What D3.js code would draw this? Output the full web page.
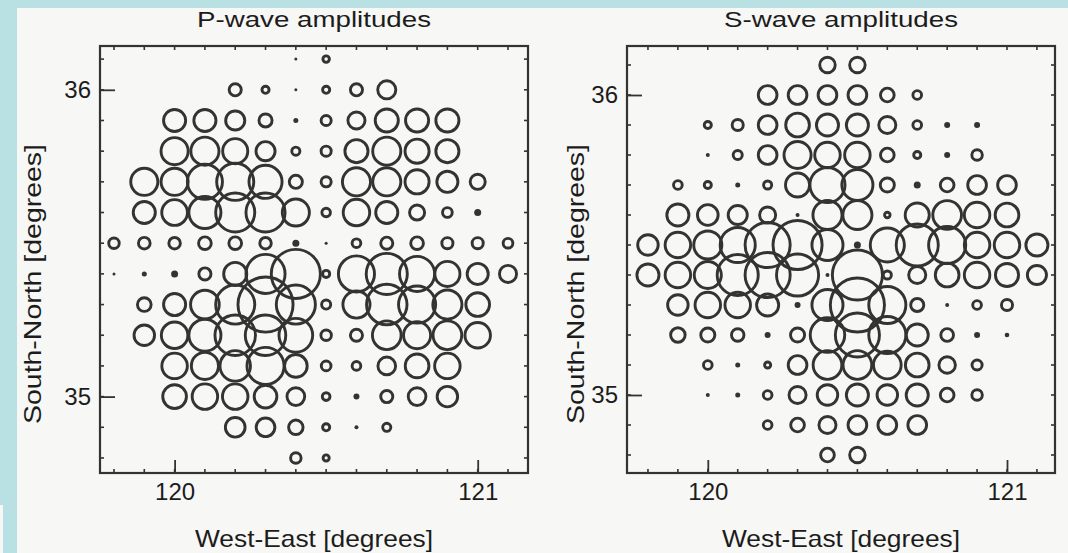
<!DOCTYPE html>
<html><head><meta charset="utf-8">
<script src="https://cdn.jsdelivr.net/npm/d3@7/dist/d3.min.js"></script>
<style>
body{margin:0;background:#b9e0e2;}
svg{display:block;}
text{font-family:"Liberation Sans",Arial,sans-serif;fill:#1c1c1c;}
</style>
</head><body>
<svg id="chart" width="1068" height="553"></svg>
<script>
// ---- data ----
const longitudes = [119.8, 119.9, 120.0, 120.1, 120.2, 120.3, 120.4, 120.5, 120.6, 120.7, 120.8, 120.9, 121.0, 121.1];
const latitudes  = [36.1, 36.0, 35.9, 35.8, 35.7, 35.6, 35.5, 35.4, 35.3, 35.2, 35.1, 35.0, 34.9, 34.8];
const xTickValues = [120, 121];
const yTickValues = [36, 35];
const panelTitles = ["P-wave amplitudes", "S-wave amplitudes"];
const xAxisTitle = "West-East [degrees]";
const yAxisTitle = "South-North [degrees]";

// amplitude per grid node, rows = latitudes (north to south), cols = longitudes (west to east)
const pAmplitudes = [
  [0,0,0,0,0,0,1.5,4.7,0,0,0,0,0,0],
  [0,0,0,0,7.5,5,1.5,5,7.5,10.5,0,0,0,0],
  [0,0,12.5,12.5,11,8,2.5,6.5,10,13,13,13,0,0],
  [0,0,15,15.5,14,11,5.5,6.5,13,15.5,13.5,13,0,0],
  [0,15,15,19,20,18,8,6.5,15.5,15.5,13.5,12,9,0],
  [0,12.5,14.3,17.5,21,21,15,5.7,14.7,12.5,9,6.3,3.5,0],
  [6.7,7.3,7.2,7.8,7.8,7.2,3.5,1.5,5.8,7.5,7.8,7,7,6.3],
  [1.5,2.5,3.5,7.5,13,21,26,5,19.5,22,19,14,12,10],
  [0,8.3,12.5,15.8,21,29,21,6,15,21.7,20,16,13.3,0],
  [0,11.7,14.7,17.5,21.7,21.7,18.3,6.7,7.5,15.8,15,15.8,14.2,0],
  [0,0,14.2,15,16.7,20,12.8,6.3,5.8,10.3,13.3,14.2,0,0],
  [0,0,13.3,14.2,14.2,12.8,10.3,5.3,3,7.5,10.3,11.7,0,0],
  [0,0,0,0,11.3,10.8,8.7,5,2,5.5,0,0,0,0],
  [0,0,0,0,0,0,6.7,4.5,0,0,0,0,0,0]
];
const sAmplitudes = [
  [0,0,0,0,0,0,9.2,9.2,0,0,0,0,0,0],
  [0,0,0,0,10.8,10.8,10.8,10.8,8.3,5.8,0,0,0,0],
  [0,0,5,7,10.8,13.3,12.5,12.5,10,5.8,3,3,0,0],
  [0,0,2,6,10.8,15,14.2,14.2,8.3,5,3,6.7,0,0],
  [0,5.8,5,2.5,5.5,13.5,19,17,8.5,3.5,8.3,10.8,10.8,0],
  [0,12.5,11.8,11,9.5,2,16,16,4.2,13.5,15.8,14.2,13.3,0],
  [11.7,14.2,15.5,19,24,26,17,3.5,18.5,22.5,20,14.2,14.2,12.5],
  [12.5,14.2,15,22,24,22.5,2,26.5,5.5,10,13.3,14.2,13,11],
  [0,11.7,14.2,14.2,12.5,3,17,28.5,20,8,2,5.8,7,0],
  [0,8.7,8.5,7.7,3,8.5,18.7,23.5,20,12.5,7.8,3,2.3,0],
  [0,0,5.8,2.5,4.5,10.8,15.8,15.8,15.3,13.3,9.7,6.5,0,0],
  [0,0,2,2.5,5.8,10,11.7,12.5,11.7,12.5,8.3,6.7,0,0],
  [0,0,0,0,5.8,8.3,10,10.8,10.8,10.8,0,0,0,0],
  [0,0,0,0,0,0,8.3,9.2,0,0,0,0,0,0]
];

// ---- layout ----
const svg = d3.select("#chart");
const INK = "#333333";
svg.append("rect").attr("width",1068).attr("height",553).attr("fill","#b9e0e2");
svg.append("rect").attr("x",17).attr("y",8).attr("width",1051).attr("height",545).attr("fill","#f7f7f5");
svg.append("rect").attr("x",0).attr("y",505).attr("width",3).attr("height",48).attr("fill","#f7f7f5");

const panels = [
  {title: panelTitles[0], amps: pAmplitudes, frame:[100,46,528,473], xr:[174.6,477.7], yr:[89.8,396.6], yTitleX: 41},
  {title: panelTitles[1], amps: sAmplitudes, frame:[627,46,1055,473], xr:[707.8,1007], yr:[95,395], yTitleX: 584}
];

const rScale = d3.scaleLinear().domain([0,30]).range([0,30]);
const STROKE = 2.9;

panels.forEach(p => {
  const [fx0, fy0, fx1, fy1] = p.frame;
  const x = d3.scaleLinear().domain(xTickValues).range(p.xr);
  const y = d3.scaleLinear().domain(yTickValues).range(p.yr);
  const g = svg.append("g");

  // minor frame ticks
  const lonMinor = d3.range(Math.ceil(x.invert(fx0)*10), Math.floor(x.invert(fx1)*10)+1).map(v=>v/10);
  const latMinor = d3.range(Math.ceil(y.invert(fy1)*10), Math.floor(y.invert(fy0)*10)+1).map(v=>v/10);
  const mt = g.append("g").attr("stroke",INK).attr("stroke-width",1.6);
  lonMinor.forEach(v => {
    mt.append("line").attr("x1",x(v)).attr("x2",x(v)).attr("y1",fy1).attr("y2",fy1-4);
    mt.append("line").attr("x1",x(v)).attr("x2",x(v)).attr("y1",fy0).attr("y2",fy0+4);
  });
  latMinor.forEach(v => {
    mt.append("line").attr("y1",y(v)).attr("y2",y(v)).attr("x1",fx0).attr("x2",fx0+4);
    mt.append("line").attr("y1",y(v)).attr("y2",y(v)).attr("x1",fx1).attr("x2",fx1-4);
  });

  // frame
  g.append("rect").attr("x",fx0).attr("y",fy0).attr("width",fx1-fx0).attr("height",fy1-fy0)
    .attr("fill","none").attr("stroke",INK).attr("stroke-width",2.2);

  // major axes
  const xa = g.append("g").attr("transform",`translate(0,${fy1})`)
    .call(d3.axisBottom(x).tickValues(xTickValues).tickSize(-13).tickPadding(10).tickFormat(d3.format("d")));
  const ya = g.append("g").attr("transform",`translate(${fx0},0)`)
    .call(d3.axisLeft(y).tickValues(yTickValues).tickSize(-15).tickPadding(9).tickFormat(d3.format("d")));
  [xa, ya].forEach(a => {
    a.select(".domain").remove();
    a.selectAll(".tick line").attr("stroke",INK).attr("stroke-width",1.8);
    a.selectAll(".tick text").attr("font-size",24).attr("font-family","Liberation Sans, Arial, sans-serif").attr("fill","#1c1c1c");
  });

  // circles
  const cells = [];
  p.amps.forEach((row,i) => row.forEach((a,j) => { if (a > 0) cells.push({lat: latitudes[i], lon: longitudes[j], a}); }));
  g.append("g").selectAll("circle").data(cells).join("circle")
    .attr("cx", d => x(d.lon)).attr("cy", d => y(d.lat))
    .attr("r", d => d.a <= 3.5 ? rScale(d.a) : rScale(d.a) - STROKE/2)
    .attr("fill", d => d.a <= 3.5 ? INK : "none")
    .attr("stroke", d => d.a <= 3.5 ? "none" : INK)
    .attr("stroke-width", STROKE);

  // titles
  const cx = (fx0 + fx1) / 2;
  g.append("text").attr("x", cx).attr("y", 27).attr("text-anchor","middle").attr("font-size",22)
    .attr("textLength",234).attr("lengthAdjust","spacingAndGlyphs").text(p.title);
  g.append("text").attr("x", cx).attr("y", 547).attr("text-anchor","middle").attr("font-size",24)
    .attr("textLength",238).attr("lengthAdjust","spacingAndGlyphs").text(xAxisTitle);
  g.append("text").attr("transform",`translate(${p.yTitleX},${284}) rotate(-90)`)
    .attr("text-anchor","middle").attr("font-size",24)
    .attr("textLength",280).attr("lengthAdjust","spacingAndGlyphs").text(yAxisTitle);
});
</script>
</body></html>
